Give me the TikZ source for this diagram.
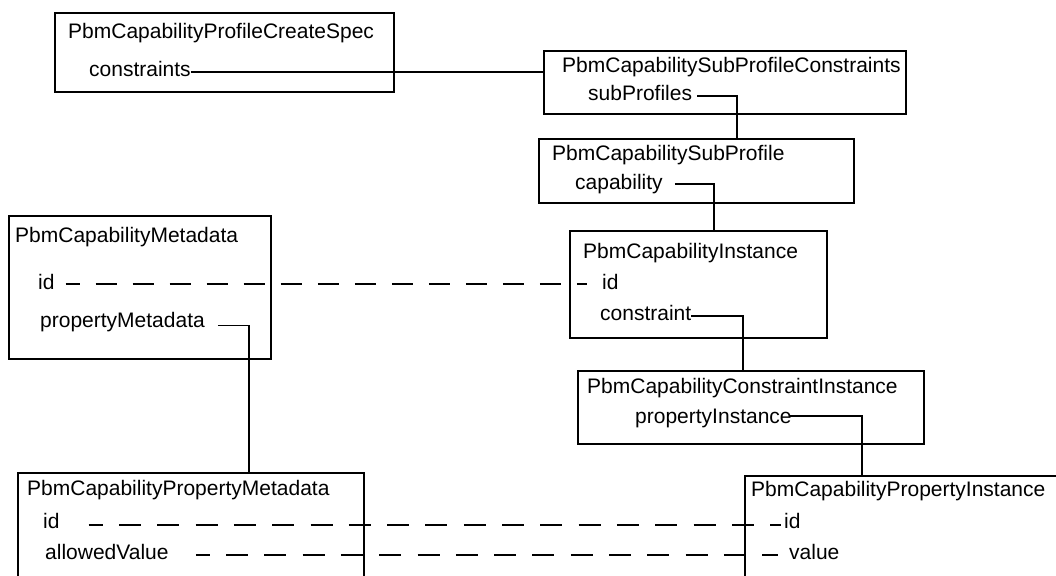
\documentclass[tikz,border=0pt]{standalone}
\usepackage{fontspec}
\setmainfont{Liberation Sans}
\begin{document}
\begin{tikzpicture}[x=1pt,y=-1pt,
  box/.style={draw, line width=1.8pt, inner sep=0pt, anchor=north west},
  txt/.style={anchor=base west, inner sep=0pt, font=\fontsize{21}{25}\selectfont},
  conn/.style={line width=1.8pt},
  dashtop/.style={line width=1.8pt, dash pattern=on 21pt off 16pt},
  dashbot/.style={line width=1.8pt, dash pattern=on 22pt off 16.3pt}]
\useasboundingbox (0,0) rectangle (1056,575);
\clip (0,0) rectangle (1056,575);

% boxes
\node[box, minimum width=339pt, minimum height=79pt] (b1) at (54,12) {};
\node[box, minimum width=362pt, minimum height=63pt] (b2) at (543,50) {};
\node[box, minimum width=315pt, minimum height=64pt] (b3) at (538,138) {};
\node[box, minimum width=257pt, minimum height=107pt] (b4) at (569,230) {};
\node[box, minimum width=346pt, minimum height=73pt] (b5) at (577,370) {};
\node[box, minimum width=400pt, minimum height=200pt] (b6) at (744,475) {};
\node[box, minimum width=262pt, minimum height=143pt] (b7) at (8,215) {};
\node[box, minimum width=346pt, minimum height=200pt] (b8) at (17,472) {};

% texts
\node[txt] (t1a) at (68,39) {PbmCapabilityProfileCreateSpec};
\node[txt] (t1b) at (89,77) {constraints};
\node[txt] (t2a) at (562,73) {PbmCapabilitySubProfileConstraints};
\node[txt] (t2b) at (588,101) {subProfiles};
\node[txt] (t3a) at (552,160) {PbmCapabilitySubProfile};
\node[txt] (t3b) at (575,189) {capability};
\node[txt] (t4a) at (583,258) {PbmCapabilityInstance};
\node[txt] (t4b) at (602,289) {id};
\node[txt] (t4c) at (600,320) {constraint};
\node[txt] (t5a) at (587,393) {PbmCapabilityConstraintInstance};
\node[txt] (t5b) at (635,423) {propertyInstance};
\node[txt] (t6a) at (751,496) {PbmCapabilityPropertyInstance};
\node[txt] (t6b) at (784,528) {id};
\node[txt] (t6c) at (789,559) {value};
\node[txt] (t7a) at (15,242) {PbmCapabilityMetadata};
\node[txt] (t7b) at (38,289) {id};
\node[txt] (t7c) at (40,327) {propertyMetadata};
\node[txt] (t8a) at (27,495) {PbmCapabilityPropertyMetadata};
\node[txt] (t8b) at (43,528) {id};
\node[txt] (t8c) at (45,559) {allowedValue};

% vertical drop positions
\coordinate (x2) at (737,0);
\coordinate (x3) at (714,0);
\coordinate (x4) at (743,0);
\coordinate (x5) at (862,0);
\coordinate (x7) at (249,0);

% solid connectors
\path ([yshift=5pt]t1b.base east) coordinate (p1);
\draw[conn] (p1) -- (p1 -| b2.west);
\path ([shift={(5pt,5pt)}]t2b.base east) coordinate (p2);
\draw[conn] (p2) -| (x2 |- b3.north);
\path ([shift={(12pt,5pt)}]t3b.base east) coordinate (p3);
\draw[conn] (p3) -| (x3 |- b4.north);
\path ([yshift=4pt]t4c.base east) coordinate (p4);
\draw[conn] (p4) -| (x4 |- b5.north);
\path ([shift={(-2pt,7pt)}]t5b.base east) coordinate (p5);
\draw[conn] (p5) -| (x5 |- b6.north);
\path ([shift={(13pt,1.5pt)}]t7c.base east) coordinate (p7);
\draw[conn] (p7) -| (x7 |- b8.north);

% dashed connectors
\path ([shift={(11pt,5pt)}]t7b.base east) coordinate (d1a);
\path ([xshift=-15pt]t4b.base west) coordinate (d1b);
\draw[dashtop, dash phase=7pt] (d1a) -- (d1a -| d1b);
\path ([shift={(29pt,3pt)}]t8b.base east) coordinate (d2a);
\path ([xshift=-3pt]t6b.base west) coordinate (d2b);
\draw[dashbot, dash phase=8pt] (d2a) -- (d2a -| d2b);
\path ([shift={(27pt,4pt)}]t8c.base east) coordinate (d3a);
\path ([xshift=-11pt]t6c.base west) coordinate (d3b);
\draw[dashbot, dash phase=8pt] (d3a) -- (d3a -| d3b);
\end{tikzpicture}
\end{document}
